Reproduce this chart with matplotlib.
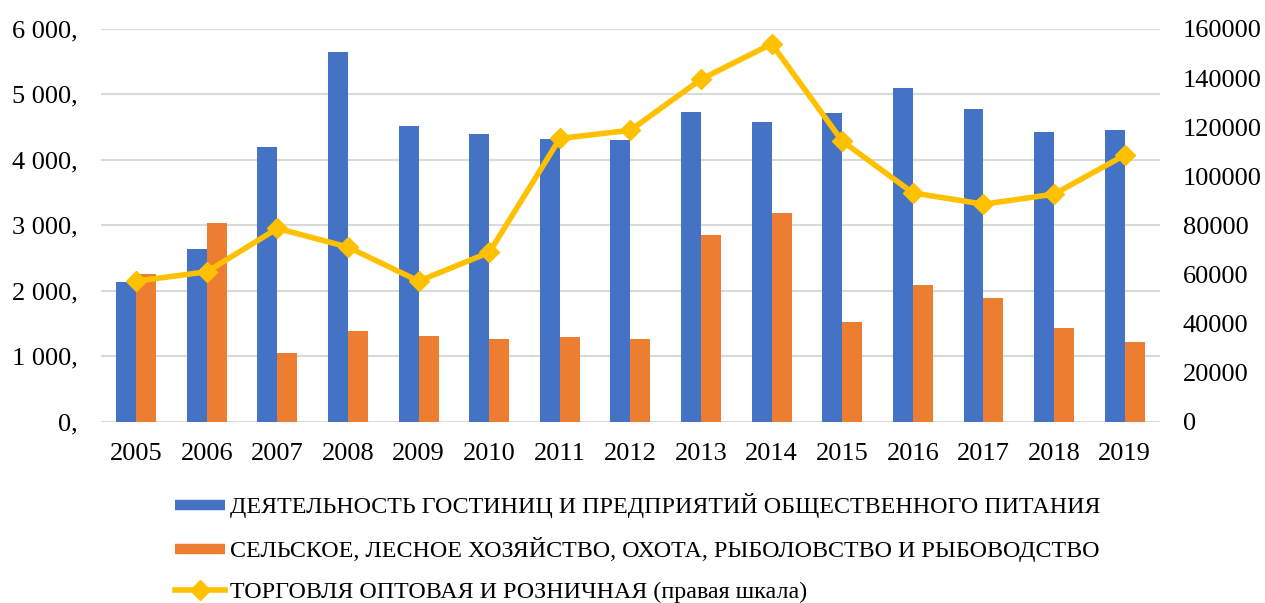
import matplotlib
matplotlib.use("Agg")
import matplotlib.pyplot as plt
from matplotlib.lines import Line2D
from matplotlib.ticker import FuncFormatter
import numpy as np

years = [str(y) for y in range(2005, 2020)]
hotels = [2133, 2632, 4189, 5649, 4510, 4392, 4321, 4305, 4733, 4571, 4723, 5099, 4774, 4423, 4453]
agri = [2260, 3034, 1054, 1380, 1308, 1263, 1298, 1263, 2850, 3181, 1527, 2087, 1888, 1430, 1217]
trade = [57280, 61060, 78740, 71120, 57270, 68960, 115370, 118750, 139500, 153900, 114300, 93200, 88600, 92700, 108600]

lbl_hotels = "ДЕЯТЕЛЬНОСТЬ ГОСТИНИЦ И ПРЕДПРИЯТИЙ ОБЩЕСТВЕННОГО ПИТАНИЯ"
lbl_agri = "СЕЛЬСКОЕ, ЛЕСНОЕ ХОЗЯЙСТВО, ОХОТА, РЫБОЛОВСТВО И РЫБОВОДСТВО"
lbl_trade = "ТОРГОВЛЯ ОПТОВАЯ И РОЗНИЧНАЯ (правая шкала)"

BLUE = "#4472C4"
ORANGE = "#ED7D31"
GOLD = "#FFC000"
GRID = "#D9D9D9"

plt.rcParams['font.family'] = ['Liberation Serif', 'DejaVu Serif']

fig = plt.figure(figsize=(12.65, 6.03), dpi=100)
ax = fig.add_axes([0.0798, 0.3007, 0.917 - 0.0798, 0.952 - 0.3007])
x = np.arange(len(years))
w = 0.283
ax.bar(x - w / 2, hotels, width=w, color=BLUE, zorder=2)
ax.bar(x + w / 2, agri, width=w, color=ORANGE, zorder=2)
ax.set_xlim(-0.5, len(years) - 0.5)
ax.set_ylim(0, 6000)
ax.set_yticks(range(0, 6001, 1000))
ax.yaxis.set_major_formatter(FuncFormatter(lambda v, p: (f"{int(v):,}".replace(",", " ") + ",")))
ax.set_xticks(x)
ax.set_xticklabels(years)
ax.grid(axis='y', color=GRID, linewidth=1.5, zorder=0)
ax.set_axisbelow(True)
for s in ax.spines.values():
    s.set_visible(False)
ax.tick_params(axis='both', length=0, labelsize=19, colors='black')
ax.tick_params(axis='y', pad=16.5)
ax.tick_params(axis='x', pad=15)

ax2 = ax.twinx()
ax2.plot(x, trade, color=GOLD, linewidth=4, marker='D', markersize=10, zorder=3)
ax2.set_ylim(0, 160000)
ax2.set_yticks(range(0, 160001, 20000))
ax2.set_yticklabels([str(v) for v in range(0, 160001, 20000)])
for s in ax2.spines.values():
    s.set_visible(False)
ax2.tick_params(axis='y', length=0, labelsize=19, pad=16.5, colors='black')

handles = [
    Line2D([], [], color=BLUE, linewidth=7.5, solid_capstyle='butt'),
    Line2D([], [], color=ORANGE, linewidth=7.5, solid_capstyle='butt'),
    Line2D([], [], color=GOLD, linewidth=4, marker='D', markersize=10),
]
fig.legend(handles, [lbl_hotels, lbl_agri, lbl_trade], loc='upper left',
           bbox_to_anchor=(0.138, 0.182), frameon=False, fontsize=17.3,
           handlelength=2.08, handletextpad=0.22, labelspacing=0.79,
           borderpad=0, borderaxespad=0)

fig.savefig("out.png", dpi=100)
